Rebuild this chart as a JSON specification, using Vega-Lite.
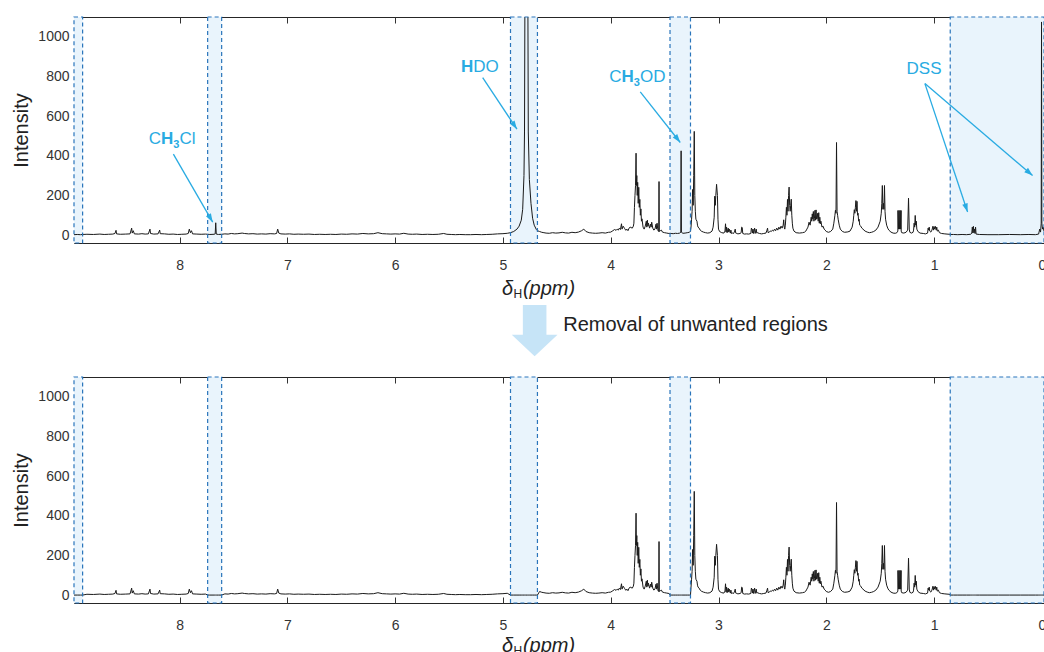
{
  "$schema": "https://vega.github.io/schema/vega-lite/v6.json",
  "padding": {"left": 11, "top": 15, "right": 0, "bottom": 0},
  "spacing": 0,
  "bounds": "flush",
  "data": {"values": [{}]},
  "config": {
    "font": "Liberation Sans",
    "view": {"stroke": "#262626", "strokeWidth": 1},
    "axis": {"grid": false, "domain": false, "labelFontSize": 14, "labelColor": "#333333", "tickColor": "#333333", "tickSize": -6, "labelFlush": false, "titleFontSize": 20, "titleFontWeight": "normal", "titleColor": "#222222", "titleFont": "Liberation Sans", "labelFont": "Liberation Sans"}
  },
  "datasets": {
    "reg": [{"a": 8.98, "b": 8.90}, {"a": 7.74, "b": 7.61}, {"a": 4.93, "b": 4.68}, {"a": 3.45, "b": 3.26}, {"a": 0.85, "b": -0.02}],
    "arr": [
      {"k": "CH3Cl", "x1": 8.058, "y1": 408, "x2": 7.693, "y2": 65},
      {"k": "HDO", "x1": 5.188, "y1": 794, "x2": 4.870, "y2": 534},
      {"k": "CH3OD", "x1": 3.726, "y1": 722, "x2": 3.355, "y2": 467},
      {"k": "DSS1", "x1": 1.085, "y1": 764, "x2": 0.689, "y2": 116},
      {"k": "DSS2", "x1": 1.085, "y1": 764, "x2": 0.086, "y2": 300}
    ],
    "spec": [
      {"p":8.98,"r":2,"c":0},{"p":8.95,"r":3,"c":0},{"p":8.92,"r":2,"c":0},{"p":8.9,"r":3,"c":0},
      {"p":8.86,"r":4,"c":4},{"p":8.8,"r":3,"c":3},{"p":8.74,"r":5,"c":5},{"p":8.7,"r":3,"c":3},{"p":8.66,"r":4,"c":4},{"p":8.62,"r":5,"c":5},{"p":8.6,"r":8,"c":8},{"p":8.59,"r":24,"c":24},{"p":8.585,"r":6,"c":6},{"p":8.55,"r":4,"c":4},{"p":8.5,"r":5,"c":5},{"p":8.46,"r":6,"c":6},{"p":8.445,"r":35,"c":35},{"p":8.44,"r":10,"c":10},{"p":8.43,"r":22,"c":22},{"p":8.42,"r":6,"c":6},{"p":8.38,"r":5,"c":5},{"p":8.35,"r":7,"c":7},{"p":8.32,"r":5,"c":5},{"p":8.29,"r":6,"c":6},{"p":8.275,"r":30,"c":30},{"p":8.27,"r":8,"c":8},{"p":8.24,"r":5,"c":5},{"p":8.2,"r":6,"c":6},{"p":8.185,"r":25,"c":25},{"p":8.18,"r":7,"c":7},{"p":8.14,"r":6,"c":6},{"p":8.1,"r":4,"c":4},{"p":8.06,"r":5,"c":5},{"p":8.02,"r":3,"c":3},{"p":7.98,"r":4,"c":4},{"p":7.94,"r":5,"c":5},{"p":7.92,"r":8,"c":8},{"p":7.91,"r":30,"c":30},{"p":7.9,"r":12,"c":12},{"p":7.89,"r":22,"c":22},{"p":7.88,"r":6,"c":6},{"p":7.84,"r":5,"c":5},{"p":7.8,"r":4,"c":4},{"p":7.76,"r":5,"c":5},
      {"p":7.74,"r":4,"c":0},{"p":7.72,"r":3,"c":0},{"p":7.68,"r":4,"c":0},{"p":7.67,"r":6,"c":0},{"p":7.665,"r":62,"c":0},{"p":7.66,"r":5,"c":0},{"p":7.64,"r":3,"c":0},{"p":7.61,"r":4,"c":0},
      {"p":7.58,"r":6,"c":6},{"p":7.55,"r":5,"c":5},{"p":7.52,"r":8,"c":8},{"p":7.49,"r":6,"c":6},{"p":7.46,"r":7,"c":7},{"p":7.42,"r":10,"c":10},{"p":7.4,"r":8,"c":8},{"p":7.36,"r":6,"c":6},{"p":7.32,"r":7,"c":7},{"p":7.28,"r":5,"c":5},{"p":7.24,"r":6,"c":6},{"p":7.2,"r":5,"c":5},{"p":7.16,"r":7,"c":7},{"p":7.12,"r":6,"c":6},{"p":7.1,"r":8,"c":8},{"p":7.09,"r":30,"c":30},{"p":7.08,"r":10,"c":10},{"p":7.06,"r":6,"c":6},{"p":7.02,"r":5,"c":5},{"p":6.98,"r":6,"c":6},{"p":6.94,"r":4,"c":4},{"p":6.9,"r":5,"c":5},{"p":6.85,"r":4,"c":4},{"p":6.8,"r":5,"c":5},{"p":6.75,"r":3,"c":3},{"p":6.7,"r":4,"c":4},{"p":6.65,"r":3,"c":3},{"p":6.6,"r":4,"c":4},{"p":6.55,"r":3,"c":3},{"p":6.5,"r":5,"c":5},{"p":6.45,"r":4,"c":4},{"p":6.4,"r":6,"c":6},{"p":6.35,"r":5,"c":5},{"p":6.3,"r":8,"c":8},{"p":6.25,"r":6,"c":6},{"p":6.2,"r":7,"c":7},{"p":6.16,"r":12,"c":12},{"p":6.12,"r":7,"c":7},{"p":6.08,"r":6,"c":6},{"p":6.04,"r":5,"c":5},{"p":6.0,"r":6,"c":6},{"p":5.96,"r":5,"c":5},{"p":5.92,"r":9,"c":9},{"p":5.88,"r":5,"c":5},{"p":5.84,"r":4,"c":4},{"p":5.8,"r":5,"c":5},{"p":5.75,"r":3,"c":3},{"p":5.7,"r":4,"c":4},{"p":5.65,"r":3,"c":3},{"p":5.6,"r":4,"c":4},{"p":5.55,"r":8,"c":8},{"p":5.52,"r":4,"c":4},{"p":5.48,"r":3,"c":3},{"p":5.44,"r":2,"c":2},{"p":5.4,"r":3,"c":3},{"p":5.35,"r":2,"c":2},{"p":5.3,"r":2,"c":2},{"p":5.25,"r":3,"c":3},{"p":5.2,"r":2,"c":2},{"p":5.15,"r":3,"c":3},{"p":5.1,"r":4,"c":4},{"p":5.05,"r":6,"c":6},{"p":5.0,"r":7,"c":7},{"p":4.96,"r":9,"c":9},
      {"p":4.93,"r":12,"c":0},{"p":4.9,"r":18,"c":0},{"p":4.87,"r":30,"c":0},{"p":4.85,"r":45,"c":0},{"p":4.83,"r":75,"c":0},{"p":4.817,"r":130,"c":0},{"p":4.805,"r":300,"c":0},{"p":4.8,"r":520,"c":0},{"p":4.795,"r":1400,"c":0},{"p":4.79,"r":3500,"c":0},{"p":4.775,"r":3500,"c":0},{"p":4.77,"r":1400,"c":0},{"p":4.765,"r":520,"c":0},{"p":4.755,"r":280,"c":0},{"p":4.74,"r":160,"c":0},{"p":4.725,"r":85,"c":0},{"p":4.71,"r":50,"c":0},{"p":4.69,"r":28,"c":0},{"p":4.68,"r":22,"c":0},
      {"p":4.66,"r":18,"c":18},{"p":4.64,"r":14,"c":14},{"p":4.62,"r":12,"c":12},{"p":4.6,"r":10,"c":10},{"p":4.57,"r":9,"c":9},{"p":4.54,"r":12,"c":12},{"p":4.51,"r":10,"c":10},{"p":4.48,"r":11,"c":11},{"p":4.45,"r":14,"c":14},{"p":4.42,"r":11,"c":11},{"p":4.39,"r":10,"c":10},{"p":4.36,"r":14,"c":14},{"p":4.33,"r":12,"c":12},{"p":4.3,"r":15,"c":15},{"p":4.27,"r":22,"c":22},{"p":4.25,"r":30,"c":30},{"p":4.23,"r":18,"c":18},{"p":4.2,"r":12,"c":12},{"p":4.17,"r":10,"c":10},{"p":4.14,"r":9,"c":9},{"p":4.11,"r":10,"c":10},{"p":4.08,"r":12,"c":12},{"p":4.05,"r":10,"c":10},{"p":4.02,"r":14,"c":14},{"p":4.0,"r":15,"c":15},{"p":3.98,"r":22,"c":22},{"p":3.965,"r":28,"c":28},{"p":3.95,"r":24,"c":24},{"p":3.94,"r":30,"c":30},{"p":3.93,"r":25,"c":25},{"p":3.92,"r":35,"c":35},{"p":3.91,"r":28,"c":28},{"p":3.9,"r":57,"c":57},{"p":3.895,"r":30,"c":30},{"p":3.885,"r":45,"c":45},{"p":3.87,"r":32,"c":32},{"p":3.86,"r":24,"c":24},{"p":3.85,"r":30,"c":30},{"p":3.84,"r":22,"c":22},{"p":3.83,"r":35,"c":35},{"p":3.82,"r":40,"c":40},{"p":3.8,"r":35,"c":35},{"p":3.79,"r":45,"c":45},{"p":3.785,"r":60,"c":60},{"p":3.78,"r":140,"c":140},{"p":3.775,"r":200,"c":200},{"p":3.77,"r":250,"c":250},{"p":3.765,"r":413,"c":413},{"p":3.762,"r":250,"c":250},{"p":3.758,"r":300,"c":300},{"p":3.754,"r":200,"c":200},{"p":3.75,"r":266,"c":266},{"p":3.745,"r":160,"c":160},{"p":3.74,"r":241,"c":241},{"p":3.735,"r":140,"c":140},{"p":3.73,"r":180,"c":180},{"p":3.725,"r":100,"c":100},{"p":3.72,"r":132,"c":132},{"p":3.715,"r":70,"c":70},{"p":3.71,"r":82,"c":82},{"p":3.7,"r":40,"c":40},{"p":3.69,"r":30,"c":30},{"p":3.68,"r":45,"c":45},{"p":3.67,"r":70,"c":70},{"p":3.665,"r":40,"c":40},{"p":3.66,"r":75,"c":75},{"p":3.655,"r":45,"c":45},{"p":3.65,"r":60,"c":60},{"p":3.64,"r":35,"c":35},{"p":3.63,"r":55,"c":55},{"p":3.625,"r":40,"c":40},{"p":3.62,"r":65,"c":65},{"p":3.61,"r":35,"c":35},{"p":3.6,"r":25,"c":25},{"p":3.59,"r":30,"c":30},{"p":3.58,"r":55,"c":55},{"p":3.575,"r":30,"c":30},{"p":3.57,"r":60,"c":60},{"p":3.565,"r":35,"c":35},{"p":3.56,"r":20,"c":20},{"p":3.555,"r":18,"c":18},{"p":3.552,"r":270,"c":270},{"p":3.549,"r":18,"c":18},{"p":3.54,"r":22,"c":22},{"p":3.53,"r":25,"c":25},{"p":3.52,"r":15,"c":15},{"p":3.5,"r":12,"c":12},{"p":3.48,"r":10,"c":10},{"p":3.46,"r":8,"c":8},
      {"p":3.45,"r":9,"c":0},{"p":3.44,"r":8,"c":0},{"p":3.42,"r":7,"c":0},{"p":3.4,"r":9,"c":0},{"p":3.38,"r":8,"c":0},{"p":3.36,"r":10,"c":0},{"p":3.35,"r":14,"c":0},{"p":3.347,"r":425,"c":0},{"p":3.344,"r":14,"c":0},{"p":3.33,"r":9,"c":0},{"p":3.31,"r":10,"c":0},{"p":3.29,"r":12,"c":0},{"p":3.27,"r":14,"c":0},{"p":3.26,"r":20,"c":0},
      {"p":3.255,"r":40,"c":40},{"p":3.25,"r":80,"c":80},{"p":3.245,"r":120,"c":120},{"p":3.24,"r":230,"c":230},{"p":3.235,"r":150,"c":150},{"p":3.23,"r":300,"c":300},{"p":3.225,"r":523,"c":523},{"p":3.22,"r":200,"c":200},{"p":3.215,"r":120,"c":120},{"p":3.21,"r":80,"c":80},{"p":3.2,"r":70,"c":70},{"p":3.195,"r":50,"c":50},{"p":3.19,"r":40,"c":40},{"p":3.18,"r":35,"c":35},{"p":3.17,"r":25,"c":25},{"p":3.16,"r":20,"c":20},{"p":3.14,"r":15,"c":15},{"p":3.12,"r":12,"c":12},{"p":3.1,"r":10,"c":10},{"p":3.08,"r":12,"c":12},{"p":3.06,"r":20,"c":20},{"p":3.05,"r":40,"c":40},{"p":3.04,"r":90,"c":90},{"p":3.035,"r":196,"c":196},{"p":3.03,"r":150,"c":150},{"p":3.025,"r":200,"c":200},{"p":3.018,"r":256,"c":256},{"p":3.01,"r":200,"c":200},{"p":3.005,"r":80,"c":80},{"p":3.0,"r":30,"c":30},{"p":2.99,"r":18,"c":18},{"p":2.97,"r":12,"c":12},
      {"p":2.95,"r":10,"c":10},{"p":2.94,"r":20,"c":20},{"p":2.935,"r":57,"c":57},{"p":2.93,"r":15,"c":15},{"p":2.925,"r":40,"c":40},{"p":2.92,"r":12,"c":12},{"p":2.91,"r":35,"c":35},{"p":2.905,"r":15,"c":15},{"p":2.9,"r":30,"c":30},{"p":2.89,"r":10,"c":10},{"p":2.885,"r":25,"c":25},{"p":2.88,"r":8,"c":8},{"p":2.87,"r":10,"c":10},{"p":2.86,"r":8,"c":8},{"p":2.85,"r":20,"c":20},{"p":2.845,"r":30,"c":30},{"p":2.84,"r":10,"c":10},{"p":2.83,"r":8,"c":8},{"p":2.82,"r":6,"c":6},{"p":2.8,"r":8,"c":8},{"p":2.79,"r":12,"c":12},{"p":2.785,"r":40,"c":40},{"p":2.78,"r":38,"c":38},{"p":2.775,"r":8,"c":8},{"p":2.76,"r":5,"c":5},{"p":2.74,"r":6,"c":6},{"p":2.72,"r":5,"c":5},{"p":2.7,"r":8,"c":8},{"p":2.695,"r":35,"c":35},{"p":2.69,"r":30,"c":30},{"p":2.685,"r":10,"c":10},{"p":2.68,"r":30,"c":30},{"p":2.675,"r":8,"c":8},{"p":2.665,"r":35,"c":35},{"p":2.66,"r":8,"c":8},{"p":2.65,"r":30,"c":30},{"p":2.645,"r":10,"c":10},{"p":2.64,"r":12,"c":12},{"p":2.62,"r":8,"c":8},{"p":2.6,"r":6,"c":6},{"p":2.58,"r":8,"c":8},{"p":2.56,"r":10,"c":10},{"p":2.55,"r":25,"c":25},{"p":2.545,"r":35,"c":35},{"p":2.54,"r":12,"c":12},{"p":2.53,"r":15,"c":15},{"p":2.52,"r":20,"c":20},{"p":2.51,"r":18,"c":18},{"p":2.5,"r":25,"c":25},{"p":2.49,"r":20,"c":20},{"p":2.48,"r":30,"c":30},{"p":2.47,"r":22,"c":22},{"p":2.46,"r":35,"c":35},{"p":2.45,"r":25,"c":25},{"p":2.44,"r":40,"c":40},{"p":2.43,"r":30,"c":30},{"p":2.42,"r":45,"c":45},{"p":2.41,"r":35,"c":35},{"p":2.4,"r":50,"c":50},{"p":2.395,"r":77,"c":77},{"p":2.39,"r":40,"c":40},{"p":2.385,"r":30,"c":30},{"p":2.38,"r":50,"c":50},{"p":2.375,"r":90,"c":90},{"p":2.37,"r":140,"c":140},{"p":2.365,"r":100,"c":100},{"p":2.36,"r":180,"c":180},{"p":2.355,"r":120,"c":120},{"p":2.35,"r":200,"c":200},{"p":2.345,"r":242,"c":242},{"p":2.34,"r":150,"c":150},{"p":2.335,"r":120,"c":120},{"p":2.33,"r":150,"c":150},{"p":2.325,"r":181,"c":181},{"p":2.32,"r":100,"c":100},{"p":2.315,"r":60,"c":60},{"p":2.31,"r":35,"c":35},{"p":2.3,"r":20,"c":20},{"p":2.28,"r":12,"c":12},{"p":2.25,"r":10,"c":10},{"p":2.22,"r":12,"c":12},{"p":2.2,"r":15,"c":15},{"p":2.19,"r":20,"c":20},{"p":2.18,"r":30,"c":30},
      {"p":2.17,"r":40,"c":40},{"p":2.16,"r":65,"c":65},{"p":2.15,"r":50,"c":50},{"p":2.14,"r":90,"c":90},{"p":2.135,"r":70,"c":70},{"p":2.13,"r":107,"c":107},{"p":2.125,"r":80,"c":80},{"p":2.12,"r":119,"c":119},{"p":2.115,"r":70,"c":70},{"p":2.11,"r":83,"c":83},{"p":2.105,"r":125,"c":125},{"p":2.1,"r":75,"c":75},{"p":2.095,"r":127,"c":127},{"p":2.09,"r":80,"c":80},{"p":2.085,"r":83,"c":83},{"p":2.08,"r":110,"c":110},{"p":2.075,"r":70,"c":70},{"p":2.07,"r":113,"c":113},{"p":2.065,"r":60,"c":60},{"p":2.06,"r":90,"c":90},{"p":2.055,"r":57,"c":57},{"p":2.05,"r":70,"c":70},{"p":2.04,"r":40,"c":40},{"p":2.03,"r":45,"c":45},{"p":2.02,"r":30,"c":30},{"p":2.01,"r":25,"c":25},{"p":2.0,"r":18,"c":18},{"p":1.98,"r":14,"c":14},{"p":1.96,"r":18,"c":18},{"p":1.94,"r":30,"c":30},{"p":1.93,"r":60,"c":60},{"p":1.92,"r":100,"c":100},{"p":1.915,"r":125,"c":125},{"p":1.91,"r":110,"c":110},{"p":1.905,"r":467,"c":467},{"p":1.9,"r":120,"c":120},{"p":1.895,"r":100,"c":100},{"p":1.89,"r":80,"c":80},{"p":1.88,"r":50,"c":50},{"p":1.87,"r":30,"c":30},{"p":1.85,"r":18,"c":18},{"p":1.83,"r":14,"c":14},{"p":1.8,"r":16,"c":16},{"p":1.78,"r":20,"c":20},{"p":1.76,"r":40,"c":40},{"p":1.75,"r":70,"c":70},{"p":1.745,"r":100,"c":100},{"p":1.74,"r":128,"c":128},{"p":1.735,"r":110,"c":110},{"p":1.73,"r":140,"c":140},{"p":1.725,"r":174,"c":174},{"p":1.72,"r":120,"c":120},{"p":1.715,"r":170,"c":170},{"p":1.71,"r":100,"c":100},{"p":1.705,"r":110,"c":110},{"p":1.7,"r":70,"c":70},{"p":1.695,"r":80,"c":80},{"p":1.69,"r":50,"c":50},{"p":1.68,"r":45,"c":45},{"p":1.67,"r":35,"c":35},{"p":1.66,"r":30,"c":30},{"p":1.64,"r":20,"c":20},{"p":1.62,"r":15,"c":15},{"p":1.6,"r":12,"c":12},{"p":1.58,"r":14,"c":14},{"p":1.56,"r":18,"c":18},{"p":1.54,"r":25,"c":25},{"p":1.52,"r":40,"c":40},{"p":1.5,"r":70,"c":70},{"p":1.49,"r":110,"c":110},{"p":1.485,"r":160,"c":160},{"p":1.48,"r":250,"c":250},{"p":1.475,"r":130,"c":130},{"p":1.47,"r":160,"c":160},{"p":1.465,"r":130,"c":130},{"p":1.46,"r":250,"c":250},{"p":1.455,"r":120,"c":120},{"p":1.45,"r":80,"c":80},{"p":1.44,"r":50,"c":50},{"p":1.43,"r":35,"c":35},{"p":1.42,"r":25,"c":25},{"p":1.4,"r":15,"c":15},{"p":1.38,"r":10,"c":10},{"p":1.36,"r":9,"c":9},{"p":1.345,"r":12,"c":12},{"p":1.336,"r":20,"c":20},{"p":1.335,"r":124,"c":124},{"p":1.33,"r":30,"c":30},{"p":1.325,"r":124,"c":124},{"p":1.32,"r":30,"c":30},{"p":1.315,"r":124,"c":124},{"p":1.31,"r":30,"c":30},{"p":1.306,"r":124,"c":124},{"p":1.305,"r":20,"c":20},{"p":1.3,"r":12,"c":12},{"p":1.28,"r":10,"c":10},{"p":1.26,"r":14,"c":14},{"p":1.245,"r":25,"c":25},{"p":1.237,"r":186,"c":186},{"p":1.23,"r":30,"c":30},{"p":1.225,"r":14,"c":14},{"p":1.21,"r":10,"c":10},{"p":1.195,"r":14,"c":14},{"p":1.19,"r":25,"c":25},{"p":1.185,"r":60,"c":60},{"p":1.18,"r":40,"c":40},{"p":1.175,"r":99,"c":99},{"p":1.17,"r":50,"c":50},{"p":1.165,"r":70,"c":70},{"p":1.16,"r":30,"c":30},{"p":1.15,"r":18,"c":18},{"p":1.13,"r":10,"c":10},{"p":1.1,"r":8,"c":8},{"p":1.08,"r":6,"c":6},{"p":1.06,"r":10,"c":10},{"p":1.055,"r":35,"c":35},{"p":1.05,"r":25,"c":25},{"p":1.045,"r":40,"c":40},{"p":1.04,"r":20,"c":20},{"p":1.03,"r":15,"c":15},{"p":1.02,"r":25,"c":25},{"p":1.01,"r":45,"c":45},{"p":1.005,"r":25,"c":25},{"p":1.0,"r":40,"c":40},{"p":0.995,"r":30,"c":30},{"p":0.99,"r":45,"c":45},{"p":0.98,"r":25,"c":25},{"p":0.975,"r":40,"c":40},{"p":0.97,"r":20,"c":20},{"p":0.96,"r":25,"c":25},{"p":0.95,"r":12,"c":12},{"p":0.93,"r":8,"c":8},{"p":0.9,"r":6,"c":6},{"p":0.88,"r":5,"c":5},{"p":0.86,"r":4,"c":4},
      {"p":0.85,"r":3,"c":0},{"p":0.82,"r":3,"c":0},{"p":0.78,"r":2,"c":0},{"p":0.74,"r":3,"c":0},{"p":0.7,"r":2,"c":0},{"p":0.66,"r":4,"c":0},{"p":0.65,"r":10,"c":0},{"p":0.645,"r":40,"c":0},{"p":0.64,"r":10,"c":0},{"p":0.635,"r":44,"c":0},{"p":0.63,"r":12,"c":0},{"p":0.625,"r":30,"c":0},{"p":0.62,"r":8,"c":0},{"p":0.615,"r":40,"c":0},{"p":0.61,"r":5,"c":0},{"p":0.58,"r":3,"c":0},{"p":0.5,"r":2,"c":0},{"p":0.4,"r":2,"c":0},{"p":0.3,"r":3,"c":0},{"p":0.2,"r":2,"c":0},{"p":0.12,"r":3,"c":0},{"p":0.06,"r":2,"c":0},{"p":0.03,"r":5,"c":0},{"p":0.02,"r":30,"c":0},{"p":0.012,"r":15,"c":0},{"p":0.006,"r":60,"c":0},{"p":0.003,"r":1075,"c":0},{"p":0.0,"r":60,"c":0},{"p":-0.006,"r":30,"c":0},{"p":-0.012,"r":40,"c":0},{"p":-0.02,"r":20,"c":0}
    ]
  },
  "vconcat": [
    {
      "width": 970, "height": 226,
      "layer": [
        {"data": {"name": "reg"}, "mark": {"type": "rect", "fill": "#e9f4fc", "strokeWidth": 0},
         "encoding": {
           "x": {"field": "a", "type": "quantitative", "scale": {"domain": [-0.02, 8.98], "reverse": true, "nice": false, "zero": false}, "axis": {"orient": "top", "labels": false, "title": null, "values": [0,1,2,3,4,5,6,7,8]}},
           "x2": {"field": "b"},
           "y": {"datum": -40, "type": "quantitative", "scale": {"domain": [-40, 1100], "nice": false, "zero": false}, "axis": {"orient": "right", "labels": false, "title": null, "values": [0,200,400,600,800,1000]}},
           "y2": {"datum": 1100}}},
        {"data": {"name": "spec"}, "mark": {"type": "line", "color": "#1a1a1a", "strokeWidth": 1, "clip": true},
         "encoding": {
           "x": {"field": "p", "type": "quantitative", "axis": {"orient": "bottom", "values": [0,1,2,3,4,5,6,7,8], "labelPadding": 21, "title": null}},
           "y": {"field": "r", "type": "quantitative", "axis": {"orient": "left", "values": [0,200,400,600,800,1000], "format": "d", "labelPadding": 11, "title": "Intensity", "titlePadding": 6}}}},
        {"data": {"name": "reg"}, "mark": {"type": "rect", "fillOpacity": 0, "stroke": "#2a75bb", "strokeDash": [4, 3], "strokeWidth": 1.2},
         "encoding": {"x": {"field": "a", "type": "quantitative", "axis": null}, "x2": {"field": "b"}, "y": {"datum": -40, "type": "quantitative", "axis": null}, "y2": {"datum": 1100}}},
        {"data": {"name": "arr"}, "mark": {"type": "rule", "color": "#29abe2", "strokeWidth": 1.3},
         "encoding": {"x": {"field": "x1", "type": "quantitative", "axis": null}, "y": {"field": "y1", "type": "quantitative", "axis": null}, "x2": {"field": "x2"}, "y2": {"field": "y2"}}},
        {"data": {"name": "arr"}, "transform": [{"filter": "datum.k == 'CH3Cl'"}], "mark": {"type": "point", "shape": "M0,0L-0.6,1.8L0.6,1.8Z", "size": 90, "filled": true, "color": "#29abe2", "opacity": 1, "angle": 150},
         "encoding": {"x": {"field": "x2", "type": "quantitative", "axis": null}, "y": {"field": "y2", "type": "quantitative", "axis": null}}},
        {"data": {"name": "arr"}, "transform": [{"filter": "datum.k == 'HDO'"}], "mark": {"type": "point", "shape": "M0,0L-0.6,1.8L0.6,1.8Z", "size": 90, "filled": true, "color": "#29abe2", "opacity": 1, "angle": 146},
         "encoding": {"x": {"field": "x2", "type": "quantitative", "axis": null}, "y": {"field": "y2", "type": "quantitative", "axis": null}}},
        {"data": {"name": "arr"}, "transform": [{"filter": "datum.k == 'CH3OD'"}], "mark": {"type": "point", "shape": "M0,0L-0.6,1.8L0.6,1.8Z", "size": 90, "filled": true, "color": "#29abe2", "opacity": 1, "angle": 142},
         "encoding": {"x": {"field": "x2", "type": "quantitative", "axis": null}, "y": {"field": "y2", "type": "quantitative", "axis": null}}},
        {"data": {"name": "arr"}, "transform": [{"filter": "datum.k == 'DSS1'"}], "mark": {"type": "point", "shape": "M0,0L-0.6,1.8L0.6,1.8Z", "size": 90, "filled": true, "color": "#29abe2", "opacity": 1, "angle": 162},
         "encoding": {"x": {"field": "x2", "type": "quantitative", "axis": null}, "y": {"field": "y2", "type": "quantitative", "axis": null}}},
        {"data": {"name": "arr"}, "transform": [{"filter": "datum.k == 'DSS2'"}], "mark": {"type": "point", "shape": "M0,0L-0.6,1.8L0.6,1.8Z", "size": 90, "filled": true, "color": "#29abe2", "opacity": 1, "angle": 131},
         "encoding": {"x": {"field": "x2", "type": "quantitative", "axis": null}, "y": {"field": "y2", "type": "quantitative", "axis": null}}},
        {"mark": {"type": "text", "text": "C", "fontSize": 17, "align": "right", "baseline": "alphabetic", "color": "#29abe2"},
         "encoding": {"x": {"datum": 8.173, "type": "quantitative", "axis": null}, "y": {"datum": 457, "type": "quantitative", "axis": null}}},
        {"mark": {"type": "text", "text": "H", "fontSize": 17, "fontWeight": "bold", "align": "left", "baseline": "alphabetic", "color": "#29abe2"},
         "encoding": {"x": {"datum": 8.173, "type": "quantitative", "axis": null}, "y": {"datum": 457, "type": "quantitative", "axis": null}}},
        {"mark": {"type": "text", "text": "3", "fontSize": 11, "fontWeight": "bold", "align": "left", "baseline": "alphabetic", "color": "#29abe2", "dx": 12.3, "dy": 4},
         "encoding": {"x": {"datum": 8.173, "type": "quantitative", "axis": null}, "y": {"datum": 457, "type": "quantitative", "axis": null}}},
        {"mark": {"type": "text", "text": "Cl", "fontSize": 17, "align": "left", "baseline": "alphabetic", "color": "#29abe2", "dx": 18.6},
         "encoding": {"x": {"datum": 8.173, "type": "quantitative", "axis": null}, "y": {"datum": 457, "type": "quantitative", "axis": null}}},
        {"mark": {"type": "text", "text": "H", "fontSize": 17, "fontWeight": "bold", "align": "right", "baseline": "alphabetic", "color": "#29abe2"},
         "encoding": {"x": {"datum": 5.275, "type": "quantitative", "axis": null}, "y": {"datum": 823, "type": "quantitative", "axis": null}}},
        {"mark": {"type": "text", "text": "DO", "fontSize": 17, "align": "left", "baseline": "alphabetic", "color": "#29abe2"},
         "encoding": {"x": {"datum": 5.275, "type": "quantitative", "axis": null}, "y": {"datum": 823, "type": "quantitative", "axis": null}}},
        {"mark": {"type": "text", "text": "C", "fontSize": 17, "align": "right", "baseline": "alphabetic", "color": "#29abe2"},
         "encoding": {"x": {"datum": 3.9, "type": "quantitative", "axis": null}, "y": {"datum": 772, "type": "quantitative", "axis": null}}},
        {"mark": {"type": "text", "text": "H", "fontSize": 17, "fontWeight": "bold", "align": "left", "baseline": "alphabetic", "color": "#29abe2"},
         "encoding": {"x": {"datum": 3.9, "type": "quantitative", "axis": null}, "y": {"datum": 772, "type": "quantitative", "axis": null}}},
        {"mark": {"type": "text", "text": "3", "fontSize": 11, "fontWeight": "bold", "align": "left", "baseline": "alphabetic", "color": "#29abe2", "dx": 12.3, "dy": 4},
         "encoding": {"x": {"datum": 3.9, "type": "quantitative", "axis": null}, "y": {"datum": 772, "type": "quantitative", "axis": null}}},
        {"mark": {"type": "text", "text": "OD", "fontSize": 17, "align": "left", "baseline": "alphabetic", "color": "#29abe2", "dx": 18.6},
         "encoding": {"x": {"datum": 3.9, "type": "quantitative", "axis": null}, "y": {"datum": 772, "type": "quantitative", "axis": null}}},
        {"mark": {"type": "text", "text": "DSS", "fontSize": 17, "align": "center", "baseline": "alphabetic", "color": "#29abe2"},
         "encoding": {"x": {"datum": 1.093, "type": "quantitative", "axis": null}, "y": {"datum": 814, "type": "quantitative", "axis": null}}}
      ]
    },
    {
      "width": 970, "height": 134, "view": {"stroke": null},
      "layer": [
        {"mark": {"type": "text", "text": "δ", "fontSize": 20, "fontStyle": "italic", "align": "left", "baseline": "alphabetic", "color": "#222222"},
         "encoding": {"x": {"datum": 5.009, "type": "quantitative", "scale": {"domain": [-0.02, 8.98], "reverse": true, "nice": false, "zero": false}, "axis": null}, "y": {"datum": 81.7, "type": "quantitative", "scale": {"domain": [0, 134], "nice": false, "zero": false}, "axis": null}}},
        {"mark": {"type": "text", "text": "H", "fontSize": 12, "align": "left", "baseline": "alphabetic", "color": "#222222"},
         "encoding": {"x": {"datum": 4.903, "type": "quantitative", "axis": null}, "y": {"datum": 79, "type": "quantitative", "axis": null}}},
        {"mark": {"type": "text", "text": "(ppm)", "fontSize": 20, "fontStyle": "italic", "align": "left", "baseline": "alphabetic", "color": "#222222"},
         "encoding": {"x": {"datum": 4.815, "type": "quantitative", "axis": null}, "y": {"datum": 81.7, "type": "quantitative", "axis": null}}},
        {"mark": {"type": "point", "shape": "M-0.516,-2.245L0.516,-2.245L0.516,-0.945L1,-0.945L0,0L-1,-0.945L-0.516,-0.945Z", "size": 2088, "filled": true, "color": "#c6e4f7", "opacity": 1},
         "encoding": {"x": {"datum": 4.706, "type": "quantitative", "axis": null}, "y": {"datum": 20.7, "type": "quantitative", "axis": null}}},
        {"mark": {"type": "text", "text": "Removal of unwanted regions", "fontSize": 20, "align": "left", "baseline": "alphabetic", "color": "#222222"},
         "encoding": {"x": {"datum": 4.441, "type": "quantitative", "axis": null}, "y": {"datum": 46.5, "type": "quantitative", "axis": null}}}
      ]
    },
    {
      "width": 970, "height": 226,
      "layer": [
        {"data": {"name": "reg"}, "mark": {"type": "rect", "fill": "#e9f4fc", "strokeWidth": 0},
         "encoding": {
           "x": {"field": "a", "type": "quantitative", "scale": {"domain": [-0.02, 8.98], "reverse": true, "nice": false, "zero": false}, "axis": {"orient": "top", "labels": false, "title": null, "values": [0,1,2,3,4,5,6,7,8]}},
           "x2": {"field": "b"},
           "y": {"datum": -40, "type": "quantitative", "scale": {"domain": [-40, 1100], "nice": false, "zero": false}, "axis": {"orient": "right", "labels": false, "title": null, "values": [0,200,400,600,800,1000]}},
           "y2": {"datum": 1100}}},
        {"data": {"name": "spec"}, "mark": {"type": "line", "color": "#1a1a1a", "strokeWidth": 1, "clip": true},
         "encoding": {
           "x": {"field": "p", "type": "quantitative", "axis": {"orient": "bottom", "values": [0,1,2,3,4,5,6,7,8], "labelPadding": 21, "title": null}},
           "y": {"field": "c", "type": "quantitative", "axis": {"orient": "left", "values": [0,200,400,600,800,1000], "format": "d", "labelPadding": 11, "title": "Intensity", "titlePadding": 6}}}},
        {"data": {"name": "reg"}, "mark": {"type": "rect", "fillOpacity": 0, "stroke": "#2a75bb", "strokeDash": [4, 3], "strokeWidth": 1.2},
         "encoding": {"x": {"field": "a", "type": "quantitative", "axis": null}, "x2": {"field": "b"}, "y": {"datum": -40, "type": "quantitative", "axis": null}, "y2": {"datum": 1100}}}
      ]
    },
    {
      "width": 970, "height": 51, "view": {"stroke": null},
      "layer": [
        {"mark": {"type": "text", "text": "δ", "fontSize": 20, "fontStyle": "italic", "align": "left", "baseline": "alphabetic", "color": "#222222"},
         "encoding": {"x": {"datum": 5.009, "type": "quantitative", "scale": {"domain": [-0.02, 8.98], "reverse": true, "nice": false, "zero": false}, "axis": null}, "y": {"datum": 1.7, "type": "quantitative", "scale": {"domain": [0, 51], "nice": false, "zero": false}, "axis": null}}},
        {"mark": {"type": "text", "text": "H", "fontSize": 12, "align": "left", "baseline": "alphabetic", "color": "#222222"},
         "encoding": {"x": {"datum": 4.903, "type": "quantitative", "axis": null}, "y": {"datum": -1, "type": "quantitative", "axis": null}}},
        {"mark": {"type": "text", "text": "(ppm)", "fontSize": 20, "fontStyle": "italic", "align": "left", "baseline": "alphabetic", "color": "#222222"},
         "encoding": {"x": {"datum": 4.815, "type": "quantitative", "axis": null}, "y": {"datum": 1.7, "type": "quantitative", "axis": null}}}
      ]
    }
  ]
}
